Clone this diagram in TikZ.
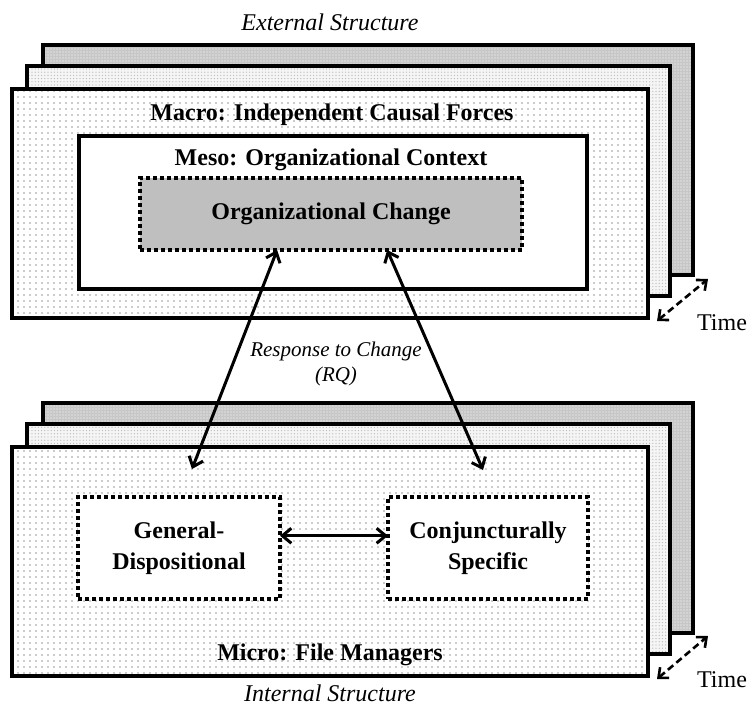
\documentclass[tikz,border=0pt]{standalone}
\usepackage{fontspec}
\setmainfont{Liberation Serif}
\usetikzlibrary{arrows.meta,patterns.meta,calc}

\begin{document}
\begin{tikzpicture}[x=1pt,y=-1pt,
  layer/.style={draw=black, line width=4.5pt, anchor=north west, inner sep=0pt, outer sep=0pt},
  backlayer/.style={layer, preaction={fill=black!22}, pattern={Dots[distance=3pt,radius=0.7pt]}, pattern color=white},
  midlayer/.style={layer, preaction={fill=black!4}, pattern={Dots[distance=3.2pt,radius=0.65pt]}, pattern color=black!28},
  frontlayer/.style={layer, preaction={fill=white}, pattern={Dots[distance=6pt,radius=0.8pt]}, pattern color=black!40},
  dotbox/.style={draw=black, line width=3.5pt, dash pattern=on 4pt off 3pt, anchor=north west, inner sep=0pt, outer sep=0pt},
  label/.style={font=\bfseries\fontsize{24}{31}\selectfont, align=center},
  ital/.style={font=\itshape\fontsize{24}{24}\selectfont, align=center},
  respital/.style={font=\itshape\fontsize{21}{25}\selectfont, align=center},
  timetxt/.style={font=\fontsize{24}{24}\selectfont},
  link/.style={line width=3pt, {Straight Barb[length=9pt,width=15pt,line width=3pt]}-{Straight Barb[length=9pt,width=15pt,line width=3pt]}},
  timelink/.style={line width=2.6pt, dash pattern=on 7pt off 4pt, {Straight Barb[length=8pt,width=14pt,line width=2.6pt]}-{Straight Barb[length=8pt,width=14pt,line width=2.6pt]}}
]
\useasboundingbox (0,0) rectangle (749,709);

% ---------- upper stack: external structure ----------
\node[ital] (ext) at (330,22) {External Structure};
\node[backlayer, minimum width=650pt, minimum height=230pt] (ub) at (43,45) {};
\node[midlayer, minimum width=643pt, minimum height=230pt] (um) at (27,66) {};
\node[frontlayer, minimum width=636pt, minimum height=229pt] (uf) at (12,89) {};
\node[label] (macro) at (332,115) {Macro: Independent Causal Forces};
\node[draw=black, line width=3.5pt, fill=white, anchor=north west, inner sep=0pt,
      minimum width=508pt, minimum height=153pt] (meso) at (77,134) {};
\node[label] (mesotxt) at (331,160) {Meso: Organizational Context};
\node[dotbox, fill=black!25, minimum width=382pt, minimum height=72pt] (oc) at (140,178) {};
\node[label] (octxt) at (oc.center) {Organizational Change};

% time marker, upper stack
\coordinate (ut1) at (657,321);
\coordinate (ut2) at (708,279);
\draw[timelink] (ut1) -- (ut2);
\node[timetxt] (utime) at (722,323) {Time};

% ---------- lower stack: internal structure ----------
\node[backlayer, minimum width=650pt, minimum height=230pt] (lb) at (43,403) {};
\node[midlayer, minimum width=643pt, minimum height=230pt] (lm) at (27,424) {};
\node[frontlayer, minimum width=636pt, minimum height=229pt] (lf) at (12,447) {};
\node[dotbox, fill=white, minimum width=202pt, minimum height=102pt] (gd) at (78,497) {};
\node[label] (gdtxt) at (gd.center) {General-\\Dispositional};
\node[dotbox, fill=white, minimum width=200pt, minimum height=102pt] (cs) at (388,497) {};
\node[label] (cstxt) at (cs.center) {Conjuncturally\\Specific};
\node[label] (micro) at (330,655) {Micro: File Managers};
\node[ital] (int) at (330,693) {Internal Structure};

% time marker, lower stack
\coordinate (lt1) at (657,679);
\coordinate (lt2) at (708,636);
\draw[timelink] (lt1) -- (lt2);
\node[timetxt] (ltime) at (722,680) {Time};

% ---------- connectors ----------
\coordinate (ocl) at ($(oc.south west)!0.359!(oc.south east)$);
\coordinate (ocr) at ($(oc.south west)!0.647!(oc.south east)$);
\coordinate (gdend) at (192,469);
\coordinate (csend) at (483,470);
\coordinate (gdr) at ($(gd.north east)!0.38!(gd.south east)$);
\coordinate (csl) at ($(cs.north west)!0.38!(cs.south west)$);
\draw[link] (ocl) -- (gdend);
\draw[link] (ocr) -- (csend);
\draw[link] (gdr) -- (csl);
\node[respital] (resp) at (336,364) {Response to Change\\(RQ)};
\end{tikzpicture}
\end{document}
